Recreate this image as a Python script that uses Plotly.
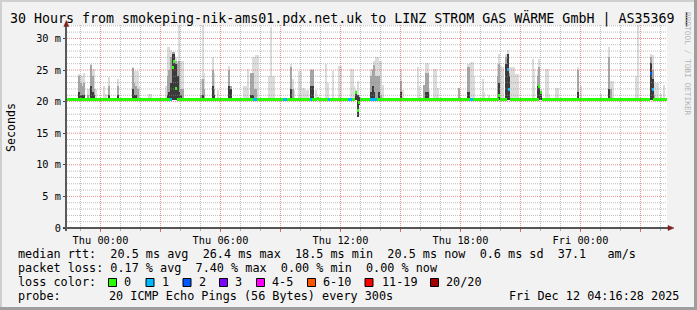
import plotly.graph_objects as go

# ---------------- data ----------------
x_tick_hours = [0, 3, 6, 9, 12, 15, 18, 21, 24, 27]
x_tick_text = ["Thu 00:00", "", "Thu 06:00", "", "Thu 12:00", "", "Thu 18:00", "", "Fri 00:00", ""]
y_tick_vals = [0, 5, 10, 15, 20, 25, 30]
y_tick_text = ["0", "5 m", "10 m", "15 m", "20 m", "25 m", "30 m"]

start_hour = -1.675      # window start, hours relative to Thu 00:00
step_hours = 1 / 12      # 300 s steps

# median rtt per 5-minute step (ms), 360 steps = 30 hours
median_ms = [
    20.4, 20.4, 20.4, 20.4, 20.4, 20.3, 20.3, 20.4, 20.4, 20.4, 20.4, 20.4, 20.4, 20.4, 20.4, 20.4, 20.4, 20.4, 20.3, 20.3, 20.4, 20.4, 20.4, 20.4,
    20.4, 20.4, 20.4, 20.4, 20.4, 20.4, 20.4, 20.4, 20.4, 20.3, 20.3, 20.4, 20.4, 20.4, 20.4, 20.4, 20.4, 20.4, 20.4, 20.4, 20.3, 20.4, 20.4, 20.4,
    20.4, 20.4, 20.4, 20.4, 20.4, 20.4, 20.4, 20.4, 20.3, 20.4, 20.4, 20.4, 20.4, 20.4, 20.4, 25.4, 26.4, 22.0, 20.4, 20.4, 20.4, 20.4, 20.4, 20.4,
    20.4, 20.4, 20.4, 20.4, 20.4, 20.4, 20.4, 20.4, 20.4, 20.4, 20.4, 20.4, 20.3, 20.3, 20.4, 20.4, 20.4, 20.4, 20.4, 20.4, 20.4, 20.4, 20.4, 20.4,
    20.4, 20.4, 20.4, 20.4, 20.3, 20.4, 20.4, 20.4, 20.4, 20.4, 20.4, 20.4, 20.4, 20.4, 20.4, 20.4, 20.4, 20.4, 20.4, 20.4, 20.4, 20.4, 20.4, 20.4,
    20.4, 20.4, 20.4, 20.4, 20.4, 20.4, 20.4, 20.4, 20.3, 20.4, 20.4, 20.4, 20.4, 20.4, 20.4, 20.4, 20.4, 20.4, 20.4, 20.4, 20.4, 20.4, 20.4, 20.4,
    20.4, 20.4, 20.4, 20.4, 20.4, 20.4, 20.5, 20.4, 20.4, 20.4, 20.4, 20.4, 20.4, 20.4, 20.4, 20.4, 20.4, 20.4, 20.4, 20.4, 20.4, 20.4, 20.4, 20.4,
    20.4, 20.4, 20.4, 20.4, 20.4, 21.4, 18.6, 19.9, 20.4, 20.4, 20.4, 20.4, 20.4, 20.4, 20.4, 20.4, 20.4, 20.4, 20.4, 20.4, 20.4, 20.4, 20.4, 20.4,
    20.4, 20.4, 20.4, 20.3, 20.4, 20.4, 20.4, 20.4, 20.4, 20.4, 20.4, 20.4, 20.3, 20.4, 20.4, 20.4, 20.4, 20.4, 20.4, 20.4, 20.4, 20.4, 20.4, 20.4,
    20.4, 20.4, 20.4, 20.4, 20.4, 20.4, 20.4, 20.4, 20.4, 20.4, 20.3, 20.4, 20.4, 20.4, 20.4, 20.4, 20.4, 20.4, 20.4, 20.4, 20.4, 20.4, 20.4, 20.4,
    20.4, 20.4, 20.4, 20.4, 20.4, 20.4, 20.4, 20.4, 20.4, 20.4, 20.4, 20.4, 20.4, 20.4, 20.4, 20.4, 20.4, 20.4, 20.4, 20.9, 20.4, 20.4, 20.4, 20.4,
    25.1, 21.9, 20.4, 20.4, 20.4, 20.4, 20.4, 20.4, 20.4, 20.4, 20.4, 20.4, 20.4, 20.4, 20.4, 20.4, 20.4, 20.4, 20.4, 22.4, 21.4, 20.4, 20.4, 20.4,
    20.4, 20.4, 20.4, 20.4, 20.4, 20.4, 20.4, 20.4, 20.4, 20.3, 20.3, 20.4, 20.4, 20.4, 20.3, 20.4, 20.4, 20.4, 20.4, 20.4, 20.4, 20.4, 20.4, 20.4,
    20.4, 20.4, 20.4, 20.4, 20.4, 20.4, 20.4, 20.4, 20.4, 20.4, 20.4, 20.4, 20.4, 20.4, 20.4, 20.4, 20.4, 20.4, 20.3, 20.4, 20.4, 20.4, 20.4, 20.4,
    20.4, 20.4, 20.4, 20.4, 20.4, 20.4, 20.4, 20.4, 20.4, 20.3, 20.4, 20.4, 20.4, 20.4, 24.5, 21.9, 20.4, 20.4, 20.4, 20.4, 20.4, 20.4, 20.4, 20.4,
]

# steps with packet loss (count of 20 pings lost)
loss_idx = [62, 112, 113, 130, 131, 146, 157, 169, 170, 182, 183, 184, 185, 242, 243, 264, 265, 350, 351]
loss_count = [1, 1, 1, 1, 1, 1, 1, 1, 1, 1, 1, 1, 1, 1, 1, 1, 1, 2, 1]

# smoke (ping spread) per step: min, dark band top, mid band top, max
smoke_idx = [7, 8, 9, 10, 12, 13, 14, 15, 16, 17,
             22, 23, 25, 30, 39, 40, 41, 42, 43, 49,
             50, 59, 60, 61, 62, 63, 64, 65, 66, 67,
             68, 69, 80, 81, 82, 87, 88, 90, 97, 98,
             106, 107, 108, 110, 111, 112, 113, 114, 121, 122,
             123, 124, 134, 135, 136, 139, 140, 141, 142, 143,
             144, 146, 147, 149, 155, 156, 159, 163, 164, 170,
             171, 172, 173, 174, 175, 182, 183, 184, 185, 186,
             187, 188, 189, 200, 201, 210, 211, 214, 215, 216,
             217, 220, 221, 222, 235, 240, 241, 242, 243, 244,
             249, 250, 253, 258, 259, 260, 261, 263, 264, 265,
             266, 267, 268, 269, 270, 279, 280, 282, 283, 284,
             287, 288, 289, 293, 294, 306, 308, 320, 325, 326,
             327, 341, 342, 350, 351, 352, 353, 354, 356, 358]
smoke_lo = [20.2, 20.2, 20.2, 20.2, 20.2, 20.2, 20.2, 20.2, 20.2, 20.2,
            20.2, 20.2, 20.2, 20.2, 20.2, 20.2, 20.2, 20.2, 20.2, 20.2,
            20.2, 20.2, 20.2, 20.2, 20.2, 20.2, 20.2, 20.2, 20.2, 20.2,
            20.2, 20.2, 20.2, 20.2, 20.2, 20.2, 20.2, 20.2, 20.2, 20.2,
            20.2, 20.2, 20.2, 20.2, 20.2, 20.2, 20.2, 20.2, 20.2, 20.2,
            20.2, 20.2, 20.2, 20.2, 20.2, 20.2, 20.2, 20.2, 20.2, 20.2,
            20.2, 20.2, 20.2, 20.2, 20.2, 20.2, 20.2, 20.2, 20.2, 20.2,
            20.2, 20.2, 20.2, 17.6, 19.5, 20.2, 20.2, 20.2, 20.2, 20.2,
            20.2, 20.2, 20.2, 20.2, 20.2, 20.2, 20.2, 20.2, 20.2, 20.2,
            20.2, 20.2, 20.2, 20.2, 20.2, 20.2, 20.2, 20.2, 20.2, 20.2,
            20.2, 20.2, 20.2, 20.2, 20.2, 20.2, 20.2, 20.2, 20.2, 20.2,
            20.2, 20.2, 20.2, 20.2, 20.2, 20.2, 20.2, 20.2, 20.2, 20.2,
            20.2, 20.2, 20.2, 20.2, 20.2, 20.2, 20.2, 20.2, 20.2, 20.2,
            20.2, 20.2, 20.2, 20.2, 20.2, 20.2, 20.2, 20.2, 20.2, 20.2]
smoke_dark = [21.5, 21.0, 21.0, 21.0, 20.4, 20.4, 22.5, 21.5, 21.0, 20.4,
              20.4, 20.4, 21.0, 21.0, 22.0, 21.0, 21.0, 20.4, 20.4, 20.4,
              20.4, 20.4, 21.0, 21.5, 23.0, 27.5, 27.6, 26.0, 24.0, 21.5,
              21.0, 20.4, 20.4, 21.0, 20.4, 22.5, 21.0, 20.4, 22.5, 22.0,
              20.4, 20.4, 20.4, 21.0, 21.0, 20.4, 20.4, 20.4, 20.4, 20.4,
              20.4, 20.4, 22.0, 20.4, 20.4, 20.4, 20.4, 20.4, 20.4, 20.4,
              20.4, 22.5, 22.5, 20.4, 20.4, 20.4, 20.4, 20.4, 20.4, 20.4,
              20.4, 20.4, 21.6, 21.0, 20.8, 21.5, 22.5, 21.5, 20.4, 20.4,
              21.5, 20.4, 20.4, 21.5, 20.4, 20.4, 20.4, 20.4, 21.5, 21.5,
              20.4, 20.4, 20.4, 20.4, 20.4, 21.5, 21.5, 20.4, 20.4, 20.4,
              20.4, 20.4, 20.4, 20.4, 23.0, 20.4, 20.4, 26.0, 27.5, 24.0,
              20.4, 20.4, 20.4, 20.4, 20.4, 20.4, 20.4, 22.4, 22.6, 21.5,
              20.4, 20.4, 20.4, 20.4, 20.4, 21.5, 20.4, 20.4, 22.0, 20.4,
              20.4, 20.4, 20.4, 26.1, 23.5, 20.4, 20.4, 20.4, 20.4, 20.4]
smoke_mid = [24.0, 23.0, 22.5, 23.0, 21.0, 20.4, 25.8, 24.0, 22.0, 20.4,
             20.4, 20.4, 22.5, 22.5, 25.3, 23.0, 22.5, 22.0, 20.4, 20.4,
             20.4, 20.4, 24.0, 25.0, 27.0, 27.8, 27.8, 26.5, 26.0, 26.4,
             22.0, 22.0, 21.0, 23.5, 22.0, 25.0, 22.0, 20.4, 25.0, 22.4,
             20.4, 20.4, 20.4, 24.5, 24.5, 22.0, 22.0, 20.4, 20.4, 20.4,
             20.4, 20.4, 25.5, 22.0, 20.4, 20.4, 20.4, 20.4, 20.4, 20.4,
             20.4, 25.0, 25.0, 20.4, 20.4, 20.4, 20.4, 20.4, 20.4, 20.4,
             20.4, 20.4, 21.7, 21.0, 20.8, 24.0, 25.0, 25.8, 24.0, 24.0,
             24.0, 21.0, 20.4, 23.2, 20.4, 20.4, 20.4, 22.7, 24.5, 24.5,
             20.4, 20.4, 20.4, 20.4, 22.1, 25.5, 25.5, 20.4, 20.4, 20.4,
             20.4, 20.4, 20.4, 24.0, 26.0, 20.4, 20.4, 27.0, 27.5, 24.5,
             20.4, 20.4, 20.4, 20.4, 20.4, 20.4, 20.4, 24.0, 25.4, 21.5,
             20.4, 20.4, 20.4, 20.4, 20.4, 25.0, 20.4, 20.4, 27.0, 22.0,
             20.4, 20.4, 20.4, 27.0, 25.0, 21.0, 20.4, 20.4, 20.4, 20.4]
smoke_hi = [24.4, 24.2, 24.0, 24.5, 22.0, 22.0, 26.0, 25.2, 25.2, 22.0,
            22.5, 21.2, 23.9, 23.5, 25.5, 24.8, 24.8, 24.8, 22.4, 21.2,
            21.2, 22.4, 28.6, 28.6, 28.1, 27.8, 27.8, 27.0, 26.4, 33.0,
            26.4, 26.4, 23.5, 33.0, 24.5, 27.0, 24.5, 21.9, 25.7, 22.4,
            22.4, 22.4, 25.1, 24.5, 27.0, 27.0, 27.3, 27.3, 24.0, 31.8,
            24.0, 24.0, 26.0, 23.5, 21.9, 24.8, 24.8, 22.2, 22.2, 21.9,
            21.9, 25.1, 25.1, 21.9, 26.0, 22.9, 24.8, 25.7, 25.7, 25.1,
            25.1, 22.4, 21.8, 23.2, 21.0, 25.1, 25.1, 26.4, 27.0, 27.0,
            26.4, 26.4, 22.7, 25.1, 21.9, 25.4, 22.4, 22.7, 26.1, 26.1,
            21.9, 25.1, 25.1, 22.1, 22.1, 25.9, 25.9, 26.2, 26.2, 24.0,
            23.6, 21.5, 21.0, 25.9, 27.5, 25.7, 25.5, 27.5, 28.2, 25.5,
            25.5, 25.5, 25.5, 24.3, 24.3, 26.8, 25.1, 25.0, 26.8, 22.0,
            25.1, 25.1, 21.2, 22.1, 22.1, 25.4, 22.4, 21.2, 28.6, 23.2,
            23.2, 24.0, 33.0, 27.5, 27.3, 23.2, 22.9, 22.9, 21.2, 22.7]

loss_labels = ["0", "1", "2", "3", "4-5", "6-10", "11-19", "20/20"]
loss_colors = ["#26ff00", "#00b8ff", "#0059ff", "#7e00ff", "#ff00ff", "#ff5500", "#ff0000", "#a10000"]
loss_upper = [0, 1, 2, 3, 5, 10, 19, 20]

title_text = "30 Hours from smokeping-nik-ams01.pdx.net.uk to LINZ STROM GAS WÄRME GmbH | AS35369 |"
rtt_avg, rtt_max, rtt_min, rtt_now, rtt_sd, am_s = "20.5", "26.4", "18.5", "20.5", "0.6", "37.1"
loss_avg, loss_max, loss_min, loss_now = "0.17", "7.40", "0.00", "0.00"
probe_text = "20 ICMP Echo Pings (56 Bytes) every 300s"
stamp_text = "Fri Dec 12 04:16:28 2025"

# ---------------- geometry / style ----------------
W, H = 697, 310
ML, MR, MT, MB = 67, 30, 25, 82
PW, PH = W - ML - MR, H - MT - MB
X0 = start_hour
X1 = start_hour + len(median_ms) * step_hours
Y1 = PH / 6.32
MONO = "DejaVu Sans Mono"
MED_HALF = 0.24


def fx(px):
    return (px - ML) / PW


def fy(py):
    return (MT + PH - py) / PH


def nb(s):
    return s.replace(" ", "\u00a0")


def loss_color(n):
    for up, c in zip(loss_upper, loss_colors):
        if n <= up:
            return c
    return loss_colors[-1]


times = [X0 + (i + 0.5) * step_hours for i in range(len(median_ms))]
loss_map = dict(zip(loss_idx, loss_count))
med_colors = [loss_color(loss_map.get(i, 0)) for i in range(len(median_ms))]
smoke_t = [times[i] for i in smoke_idx]

fig = go.Figure()
for top, col in [(smoke_hi, "#dcdcdc"), (smoke_mid, "#a6a6a6"), (smoke_dark, "#3a3a3a")]:
    fig.add_trace(go.Bar(
        x=smoke_t, base=smoke_lo, y=[t - l for t, l in zip(top, smoke_lo)],
        width=step_hours, marker=dict(color=col, line=dict(width=0)),
        hoverinfo="skip"))
fig.add_trace(go.Bar(
    x=times, base=[m - MED_HALF for m in median_ms], y=[2 * MED_HALF] * len(median_ms),
    width=step_hours, marker=dict(color=med_colors, line=dict(width=0)),
    name="median rtt", hoverinfo="skip"))

shapes = []
# frame shading
shapes.append(dict(type="rect", xref="paper", yref="paper", x0=fx(0), x1=fx(W), y0=fy(0), y1=fy(2),
                   fillcolor="#cfcfcf", line=dict(width=0), layer="below"))
shapes.append(dict(type="rect", xref="paper", yref="paper", x0=fx(0), x1=fx(2), y0=fy(0), y1=fy(H),
                   fillcolor="#cfcfcf", line=dict(width=0), layer="below"))
shapes.append(dict(type="rect", xref="paper", yref="paper", x0=fx(0), x1=fx(W), y0=fy(H - 3), y1=fy(H),
                   fillcolor="#9e9e9e", line=dict(width=0), layer="below"))
shapes.append(dict(type="rect", xref="paper", yref="paper", x0=fx(W - 3), x1=fx(W), y0=fy(0), y1=fy(H),
                   fillcolor="#9e9e9e", line=dict(width=0), layer="below"))

MINOR = "rgba(143,143,143,0.6)"
MAJOR = "rgba(222,80,80,0.65)"
for h in range(-1, 29):
    shapes.append(dict(type="line", xref="x", yref="paper", x0=h, x1=h, y0=0, y1=1, layer="above",
                       line=dict(color=MAJOR if h % 3 == 0 else MINOR, width=1, dash="1px,1px")))
for v in range(1, 33):
    shapes.append(dict(type="line", xref="paper", yref="y", x0=0, x1=1, y0=v, y1=v, layer="above",
                       line=dict(color=MAJOR if v % 5 == 0 else MINOR, width=1, dash="1px,1px")))
# axes
shapes.append(dict(type="line", xref="paper", yref="paper", x0=fx(63), x1=fx(670), y0=fy(228), y1=fy(228),
                   layer="above", line=dict(color="#1f1f1f", width=1.5)))
shapes.append(dict(type="line", xref="paper", yref="paper", x0=fx(66), x1=fx(66), y0=fy(231), y1=fy(24),
                   layer="above", line=dict(color="#5a5a5a", width=2)))
ARROW = "#7f1f1f"
shapes.append(dict(type="path", xref="paper", yref="paper", layer="above",
                   path=f"M {fx(63.8)} {fy(26.5)} L {fx(66.3)} {fy(20.5)} L {fx(68.8)} {fy(26.5)} Z",
                   fillcolor=ARROW, line=dict(color=ARROW, width=0.5)))
shapes.append(dict(type="path", xref="paper", yref="paper", layer="above",
                   path=f"M {fx(668)} {fy(225.5)} L {fx(674)} {fy(228)} L {fx(668)} {fy(230.5)} Z",
                   fillcolor=ARROW, line=dict(color=ARROW, width=0.5)))

annotations = []


def txt(s, px, py, size=11.8, xanchor="left", color="#000", angle=0):
    annotations.append(dict(text=nb(s), xref="paper", yref="paper", x=fx(px), y=fy(py),
                            xanchor=xanchor, yanchor="middle", showarrow=False, textangle=angle,
                            font=dict(family=MONO, size=size, color=color)))


txt(title_text, 7.5, 18.5, size=13.3)
txt("RRDTOOL / TOBI OETIKER", 688, 64, size=7.8, xanchor="center", color="#b4b4b4", angle=90)
txt("Seconds", 11, 128, size=11.6, xanchor="center", angle=-90)

txt(f"median rtt:  {rtt_avg} ms avg  {rtt_max} ms max  {rtt_min} ms min  {rtt_now} ms now  {rtt_sd} ms sd  {am_s}   am/s",
    15.5, 254)
txt(f"packet loss: {loss_avg} % avg  {loss_max} % max  {loss_min} % min  {loss_now} % now", 15.5, 268)
txt("loss color:", 15.5, 282)
sq_left = [108.5, 146, 183, 219.5, 256.5, 307.5, 365, 430.5]
lab_left = [122, 160, 196.5, 233, 270, 321, 379.5, 444]
for lab, col, sx, lx in zip(loss_labels, loss_colors, sq_left, lab_left):
    shapes.append(dict(type="rect", xref="paper", yref="paper", x0=fx(sx), x1=fx(sx + 8), y0=fy(286.5), y1=fy(278.5),
                       fillcolor=col, line=dict(color="#000", width=1)))
    txt(lab, lx, 282)
txt("probe:", 15.5, 296)
txt(probe_text, 106.5, 296)
txt(stamp_text, 681, 296, xanchor="right")

fig.update_layout(
    width=W, height=H,
    margin=dict(l=ML, r=MR, t=MT, b=MB, autoexpand=False),
    paper_bgcolor="#f2f2f2", plot_bgcolor="#ffffff",
    barmode="overlay", bargap=0, showlegend=False, hovermode=False,
    font=dict(family=MONO, size=10.3, color="#000"),
    shapes=shapes, annotations=annotations,
    xaxis=dict(range=[X0, X1], tickmode="array", tickvals=x_tick_hours, ticktext=x_tick_text,
               showgrid=False, zeroline=False, showline=False, fixedrange=True,
               ticks="outside", ticklen=3, tickwidth=1, tickcolor="rgba(222,80,80,0.8)",
               tickfont=dict(family=MONO, size=10.3),
               minor=dict(dtick=1, tick0=0, ticks="outside", ticklen=2, tickwidth=1,
                          tickcolor="rgba(143,143,143,0.7)", showgrid=False)),
    yaxis=dict(range=[0, Y1], tickmode="array", tickvals=y_tick_vals, ticktext=y_tick_text,
               showgrid=False, zeroline=False, showline=False, fixedrange=True,
               ticks="outside", ticklen=3, tickwidth=1, tickcolor="#444",
               tickfont=dict(family=MONO, size=10.3)),
)

fig.write_html("out.html")
